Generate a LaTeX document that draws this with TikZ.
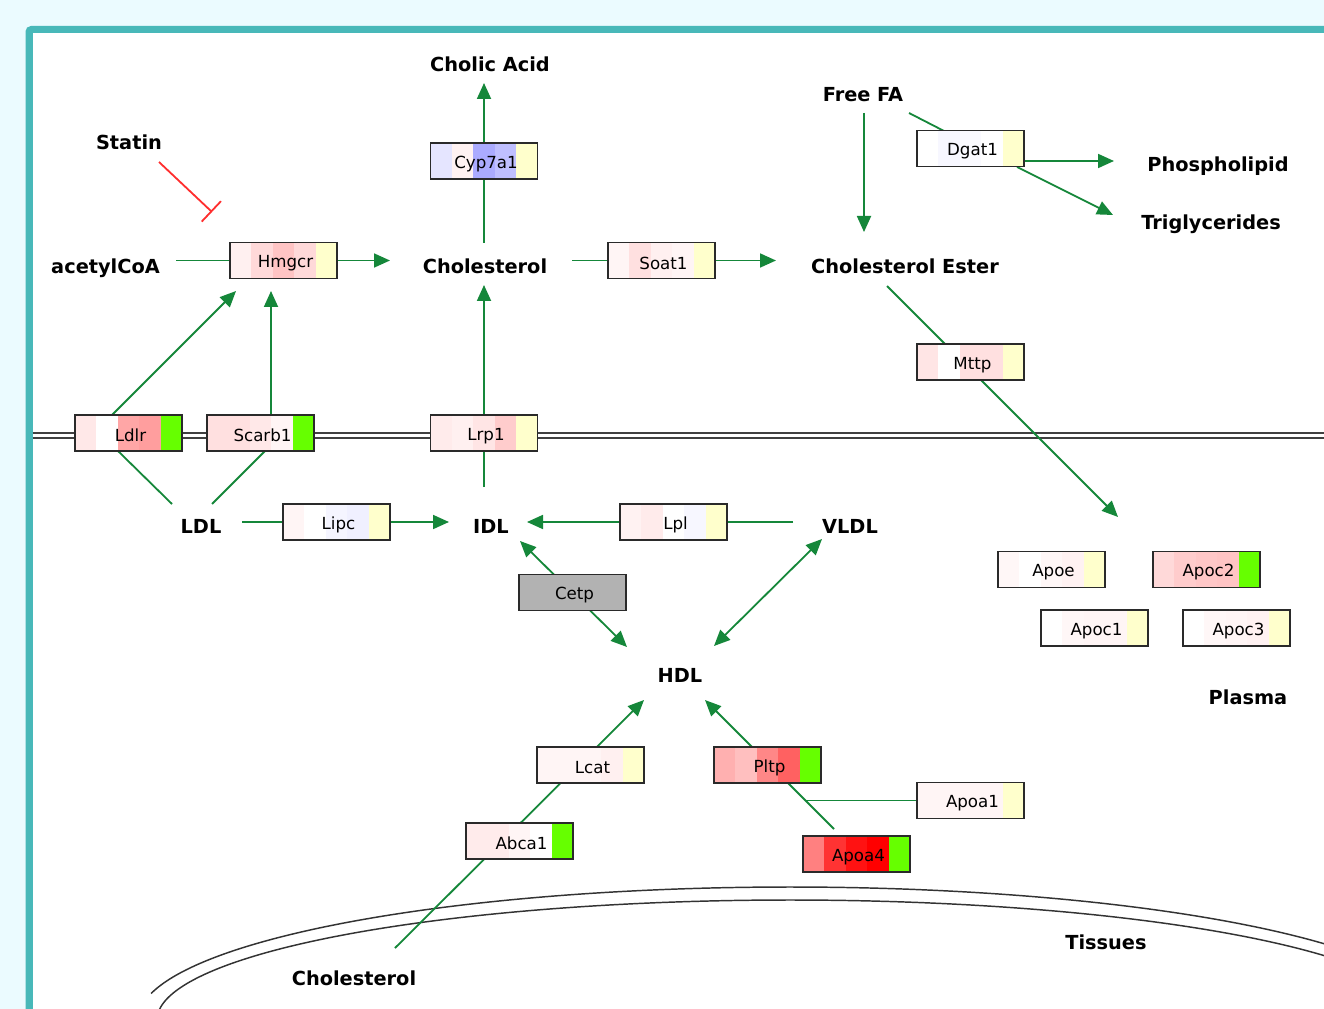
\documentclass[tikz,border=0pt]{standalone}
\usepackage{fontspec}
\setmainfont{DejaVu Sans}
\usetikzlibrary{arrows.meta,calc}
\definecolor{bgcyan}{HTML}{EBFBFF}
\definecolor{teal2}{HTML}{48B8B9}
\definecolor{agreen}{HTML}{15873A}
\definecolor{ired}{HTML}{FF2E2E}
\definecolor{gbar}{HTML}{66FF00}
\definecolor{ylw}{HTML}{FFFFCC}
\definecolor{boxline}{HTML}{2A2A2A}
\pgfdeclarelayer{back}\pgfdeclarelayer{bg}\pgfsetlayers{back,bg,main}
\newcommand\lbfont{\fontsize{14.5}{16}\selectfont\bfseries}
\newcommand\gnfont{\fontsize{12.5}{14}\selectfont}
\newcommand\gt[1]{\hspace*{3pt}\raisebox{-2pt}[\height][\depth]{#1}}
\tikzset{
  lbl/.style={font=\lbfont, anchor=base, inner sep=0pt},
  gene/.style n args={5}{draw=boxline, line width=1.25pt, minimum width=80.25pt,
    minimum height=27pt, inner sep=0pt, font=\gnfont,
    path picture={
      \foreach \col [count=\i from 0] in {#1,#2,#3,#4,#5}{
        \pgfmathsetmacro\fa{\i/5}\pgfmathsetmacro\fb{(\i+1)/5}
        \fill[\col] ($(path picture bounding box.south west)!\fa!(path picture bounding box.south east)$)
          rectangle ($(path picture bounding box.north west)!\fb!(path picture bounding box.north east)$);
      }}},
  conn/.style={draw=agreen, line width=1.35pt},
  arr/.style={-{Triangle[length=12pt,width=10.5pt]}},
  darr/.style={{Triangle[length=12pt,width=10.5pt]}-{Triangle[length=12pt,width=10.5pt]}},
  inhib/.style={draw=ired, line width=1.35pt, -{Bar[width=21pt]}},
  memb/.style={draw=black!75, line width=1.2pt},
  tissue/.style={draw=black!80, line width=1.1pt},
}
\begin{document}
\begin{tikzpicture}[x=0.75pt,y=-0.75pt]
\useasboundingbox (0,0) rectangle (1324,1009);
\begin{pgfonlayer}{back}
  \fill[bgcyan] (0,0) rectangle (1324,1009);
  \fill[teal2,rounded corners=4pt] (25.5,26) rectangle (1340,1030);
  \fill[white] (32.5,33) rectangle (1324,1009);
  \draw[memb] (32.5,433) -- (1324,433);
  \draw[memb] (32.5,438) -- (1324,438);
  \begin{scope}
    \clip (32.5,33) rectangle (1324,1009);
    \draw[tissue] plot[domain=191.5:330,samples=150,smooth] ({790+652*cos(\x)},{1020+133*sin(\x)});
    \draw[tissue] plot[domain=182:332,samples=150,smooth] ({790+633*cos(\x)},{1020+120*sin(\x)});
  \end{scope}
\end{pgfonlayer}

% labels
\node[lbl] (statin) at (129,150) {Statin};
\node[lbl] (acetyl) at (105.5,274) {acetylCoA};
\node[lbl] (cholic) at (490,72) {Cholic Acid};
\node[lbl] (chol) at (485,274) {Cholesterol};
\node[lbl] (freefa) at (863,102) {Free FA};
\node[lbl] (phos) at (1218,172) {Phospholipid};
\node[lbl] (trig) at (1211,230) {Triglycerides};
\node[lbl] (ester) at (905,274) {Cholesterol Ester};
\node[lbl] (ldl) at (201,533) {LDL};
\node[lbl] (idl) at (491,533) {IDL};
\node[lbl] (vldl) at (850,533) {VLDL};
\node[lbl] (hdl) at (680,682) {HDL};
\node[lbl] (plasma) at (1248,704) {Plasma};
\node[lbl] (tissues) at (1106,949) {Tissues};
\node[lbl] (chol2) at (354,985) {Cholesterol};

% gene boxes
\node[gene={red!6}{red!15}{red!23}{red!15}{ylw}] (Hmgcr) at (283.5,260.5) {\gt{Hmgcr}};
\node[gene={blue!10}{red!5}{blue!33}{blue!25}{ylw}] (Cyp7a1) at (484,161) {\gt{Cyp7a1}};
\node[gene={red!4}{red!12}{red!6}{red!4}{ylw}] (Soat1) at (661.5,260.5) {\gt{Soat1}};
\node[gene={white}{blue!3}{blue!2}{white}{ylw}] (Dgat1) at (970.5,148.5) {\gt{Dgat1}};
\node[gene={red!10}{white}{red!12}{red!12}{ylw}] (Mttp) at (970.5,362) {\gt{Mttp}};
\node[gene={red!9}{white}{red!35}{red!38}{gbar}] (Ldlr) at (128.5,433) {\gt{Ldlr}};
\node[gene={red!12}{red!12}{red!9}{red!4}{gbar}] (Scarb1) at (260.5,433) {\gt{Scarb1}};
\node[gene={red!8}{red!6}{red!10}{red!20}{ylw}] (Lrp1) at (484,433) {\gt{Lrp1}};
\node[gene={red!4}{white}{blue!4}{blue!6}{ylw}] (Lipc) at (336.5,522) {\gt{Lipc}};
\node[gene={red!5}{red!8}{white}{blue!3}{ylw}] (Lpl) at (673.5,522) {\gt{Lpl}};
\node[gene={black!30}{black!30}{black!30}{black!30}{black!30}] (Cetp) at (572.5,592.5) {\gt{Cetp}};
\node[gene={red!3}{white}{red!3}{red!5}{ylw}] (Apoe) at (1051.5,569.5) {\gt{Apoe}};
\node[gene={red!15}{red!20}{red!22}{red!23}{gbar}] (Apoc2) at (1206.5,569.5) {\gt{Apoc2}};
\node[gene={white}{red!3}{red!4}{red!4}{ylw}] (Apoc1) at (1094.5,628) {\gt{Apoc1}};
\node[gene={white}{red!3}{red!4}{red!5}{ylw}] (Apoc3) at (1236.5,628) {\gt{Apoc3}};
\node[gene={red!4}{red!4}{red!4}{red!6}{ylw}] (Lcat) at (590.5,765) {\gt{Lcat}};
\node[gene={red!31}{red!25}{red!47}{red!62}{gbar}] (Pltp) at (767.5,765) {\gt{Pltp}};
\node[gene={red!4}{red!4}{red!4}{red!4}{ylw}] (Apoa1) at (970.5,800.5) {\gt{Apoa1}};
\node[gene={red!8}{red!8}{red!4}{white}{gbar}] (Abca1) at (519.5,841) {\gt{Abca1}};
\node[gene={red!50}{red!80}{red!93}{red!100}{gbar}] (Apoa4) at (856.5,854) {\gt{Apoa4}};

% connector end points
\coordinate (acE) at (176,260.5);   \coordinate (hmO) at (390,260.5);
\coordinate (cholN) at (484,243);   \coordinate (cholicS) at (484,83);
\coordinate (cholE) at (572,260.5); \coordinate (esterW) at (776,260.5);
\coordinate (ffaS) at (864,113);    \coordinate (esterN) at (864,232);
\coordinate (ffaE) at (909,113);    \coordinate (dgIn) at (946,132);
\coordinate (dgOut1) at (1020,161); \coordinate (phosW) at (1114,161);
\coordinate (dgOut2) at (1017,167); \coordinate (trigW) at (1113,215);
\coordinate (esterS) at (887,286);  \coordinate (plasmaArr) at (1118,517);
\coordinate (ldlrTop) at (112,415); \coordinate (hmS1) at (236,291);
\coordinate (scTop) at (271,415);   \coordinate (hmS2) at (271,291);
\coordinate (ldlrBot) at (118,451); \coordinate (ldlNW) at (172,504);
\coordinate (scBot) at (265,451);   \coordinate (ldlNE) at (212,504);
\coordinate (ldlE) at (242,522);    \coordinate (idlW) at (449,522);
\coordinate (idlN) at (484,487);    \coordinate (cholS) at (484,285);
\coordinate (vldlW) at (793,522);   \coordinate (idlE) at (527,522);
\coordinate (idlSE) at (520,541);   \coordinate (hdlNW) at (627,647);
\coordinate (vldlSW) at (822,539);  \coordinate (hdlNE) at (714,646);
\coordinate (chol2N) at (395,948);  \coordinate (hdlSW) at (644,700);
\coordinate (pltpLow) at (834,829); \coordinate (hdlSE) at (705,700);
\coordinate (pltpJ) at (805,800.5);
\coordinate (statinS) at (159,162); \coordinate (statinT) at (212,212);

\begin{pgfonlayer}{bg}
  \draw[conn] (acE) -- (Hmgcr.west);
  \draw[conn,arr] (Hmgcr.east) -- (hmO);
  \draw[conn,arr] (cholN) -- (Cyp7a1.center) -- (cholicS);
  \draw[conn] (cholE) -- (Soat1.west);
  \draw[conn,arr] (Soat1.east) -- (esterW);
  \draw[conn,arr] (ffaS) -- (esterN);
  \draw[conn] (ffaE) -- (dgIn);
  \draw[conn,arr] (dgOut1) -- (phosW);
  \draw[conn,arr] (dgOut2) -- (trigW);
  \draw[conn,arr] (esterS) -- (plasmaArr);
  \draw[conn,arr] (ldlrTop) -- (hmS1);
  \draw[conn,arr] (scTop) -- (hmS2);
  \draw[conn] (ldlrBot) -- (ldlNW);
  \draw[conn] (scBot) -- (ldlNE);
  \draw[conn] (ldlE) -- (Lipc.west);
  \draw[conn,arr] (Lipc.east) -- (idlW);
  \draw[conn,arr] (idlN) -- (Lrp1.center) -- (cholS);
  \draw[conn] (vldlW) -- (Lpl.east);
  \draw[conn,arr] (Lpl.west) -- (idlE);
  \draw[conn,darr] (idlSE) -- (hdlNW);
  \draw[conn,darr] (vldlSW) -- (hdlNE);
  \draw[conn,arr] (chol2N) -- (hdlSW);
  \draw[conn,arr] (pltpLow) -- (hdlSE);
  \draw[conn] (pltpJ) -- (Apoa1.west);
  \draw[inhib] (statinS) -- (statinT);
\end{pgfonlayer}
\end{tikzpicture}
\end{document}
